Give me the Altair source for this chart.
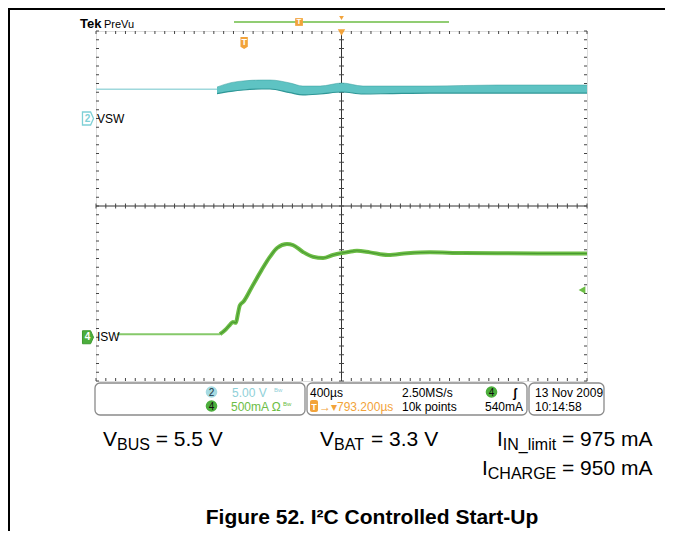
import altair as alt
import pandas as pd

# ---------------- data ----------------
# time in microseconds relative to screen centre (400 us/div, 10 div)
isw_pre_t = [-1830, -990]
isw_pre_ma = [35, 35]
isw_t = [-990, -950, -910, -885, -860, -845, -828, -800, -730, -650, -585,
         -525, -444, -395, -314, -233, -150, -70, 4, 94, 126, 232, 379, 534, 721,
         990, 1267, 1600, 2000]
isw_ma = [35, 80, 140, 175, 165, 260, 365, 405, 575, 770, 915,
          1020, 1066, 1054, 975, 920, 906, 940, 963, 984, 988, 970, 940, 960, 972,
          962, 960, 958, 958]

vsw_pre_t = [-2000, -1014]
vsw_pre_v = [3.33, 3.33]
vsw_t = [-1014, -900, -802, -650, -583, -420, -314, -175, 4, 175, 400, 721, 1267, 2000]
vsw_lo = [2.85, 3.10, 3.26, 3.37, 3.37, 2.95, 2.69, 2.80, 3.03, 2.80, 2.85, 2.91, 2.91, 2.91]
vsw_hi = [3.60, 4.10, 4.29, 4.40, 4.40, 4.06, 3.71, 3.71, 4.06, 3.71, 3.71, 3.71, 3.83, 3.83]

CH2_POS, CH2_SCALE = 2.0, 5.0      # div, V/div
CH4_POS, CH4_SCALE = -3.0, 500.0   # div, mA/div
TRIG_LEVEL_MA = 540
TRIG_TIME = -793.2
RECORD_WIN = [-876, 876]
OVERVIEW_T = -346

x_div = [-1600, -1200, -800, -400, 400, 800, 1200, 1600]
y_div = [-3, -2, -1, 1, 2, 3]
minor_x = [i * 80 for i in range(-25, 26)]
minor_y = [round(i * 0.2, 1) for i in range(-20, 21)]

# ---------------- styling ----------------
FONT = "Liberation Sans, Arial, sans-serif"
GREEN = "#6cbd45"
GREEN_D = "#3b8a2b"
GREEN_L = "#86c96a"
CYAN = "#5ec3c3"
CYAN_D = "#2f9797"
CYAN_L = "#9fd8dc"
ORANGE = "#f2a33a"
W, H = 491, 350

X = alt.Scale(domain=[-2000, 2000], nice=False, zero=False)
Y = alt.Scale(domain=[-4, 4], nice=False, zero=False)
ONE = pd.DataFrame({"k": [0]})


def xq(f="t"):
    return alt.X(f"{f}:Q", scale=X, axis=None)


def yq(f="d"):
    return alt.Y(f"{f}:Q", scale=Y, axis=None)


def txt(s, x, y, size=12, color="black", font=FONT, weight="normal", align="left",
        baseline="alphabetic"):
    return alt.Chart(ONE).mark_text(
        text=s, fontSize=size, color=color, font=font, fontWeight=weight,
        align=align, baseline=baseline
    ).encode(x=alt.value(x), y=alt.value(y))


layers = []

# grid (dotted) via axes
layers.append(
    alt.Chart(ONE).mark_point(opacity=0).encode(
        x=alt.X("k:Q", scale=X, axis=alt.Axis(values=x_div, grid=True, gridDash=[1, 7.75],
                                               gridColor="#808080", gridWidth=1.2, labels=False,
                                               ticks=False, domain=False, title=None)),
        y=alt.Y("k:Q", scale=Y, axis=alt.Axis(values=y_div, grid=True, gridDash=[1, 8.82],
                                               gridColor="#808080", gridWidth=1.2, labels=False,
                                               ticks=False, domain=False, title=None)),
    )
)

# centre cross
layers.append(alt.Chart(pd.DataFrame({"t": [0]})).mark_rule(color="#333", strokeWidth=1).encode(x=xq()))
layers.append(alt.Chart(pd.DataFrame({"d": [0]})).mark_rule(color="#333", strokeWidth=1).encode(y=yq()))

# minor ticks
mx = pd.DataFrame({"t": minor_x})
my = pd.DataFrame({"d": minor_y})
for y0, y1 in [(0, 3), (347, 350), (172.5, 177.5)]:
    layers.append(alt.Chart(mx).mark_rule(color="#444", strokeWidth=1).encode(
        x=xq(), y=alt.value(y0), y2=alt.value(y1)))
for x0, x1 in [(0, 3), (488, 491), (243, 248)]:
    layers.append(alt.Chart(my).mark_rule(color="#444", strokeWidth=1).encode(
        y=yq(), x=alt.value(x0), x2=alt.value(x1)))

# VSW trace (channel 2)
pre = pd.DataFrame({"t": vsw_pre_t, "v": vsw_pre_v})
pre["d"] = CH2_POS + pre.v / CH2_SCALE
layers.append(alt.Chart(pre).mark_line(color=CYAN_L, strokeWidth=1.5).encode(x=xq(), y=yq()))
vsw = pd.DataFrame({"t": vsw_t, "lo": vsw_lo, "hi": vsw_hi})
vsw["dlo"] = CH2_POS + vsw.lo / CH2_SCALE
vsw["dhi"] = CH2_POS + vsw.hi / CH2_SCALE
layers.append(alt.Chart(vsw).mark_area(color=CYAN, interpolate="monotone").encode(
    x=xq(), y=yq("dlo"), y2="dhi:Q"))
layers.append(alt.Chart(vsw).mark_line(color=CYAN_D, strokeWidth=1.2, interpolate="monotone").encode(
    x=xq(), y=yq("dlo")))
layers.append(alt.Chart(vsw).mark_line(color=CYAN_D, strokeWidth=0.8, opacity=0.6, interpolate="monotone").encode(
    x=xq(), y=yq("dhi")))

# ISW trace (channel 4)
ipre = pd.DataFrame({"t": isw_pre_t, "ma": isw_pre_ma})
ipre["d"] = CH4_POS + ipre.ma / CH4_SCALE
layers.append(alt.Chart(ipre).mark_line(color=GREEN_L, strokeWidth=2).encode(x=xq(), y=yq()))
isw = pd.DataFrame({"t": isw_t, "ma": isw_ma})
isw["d"] = CH4_POS + isw.ma / CH4_SCALE
layers.append(alt.Chart(isw).mark_line(color=GREEN, strokeWidth=4, interpolate="monotone").encode(x=xq(), y=yq()))
layers.append(alt.Chart(isw).mark_line(color=GREEN_D, strokeWidth=1.1, opacity=0.7, interpolate="monotone").encode(x=xq(), y=yq()))

# channel ground markers and labels
BADGE = "M-0.85,-1 L0.4,-1 L0.85,0 L0.4,1 L-0.85,1 Z"
ch = pd.DataFrame({"d": [CH2_POS]})
layers.append(alt.Chart(ch).mark_point(shape=BADGE, filled=True, fill="white", stroke="#7fd0d6",
                                       strokeWidth=1.3, size=169, opacity=1).encode(x=alt.value(-8), y=yq()))
layers.append(alt.Chart(ch).mark_text(text="2", font=FONT, fontSize=10, color="#7fd0d6",
                                      fontWeight="bold").encode(x=alt.value(-8.5), y=yq()))
layers.append(alt.Chart(ch).mark_text(text="VSW", font=FONT, fontSize=12, color="black",
                                      align="left").encode(x=alt.value(1), y=yq()))
ch4 = pd.DataFrame({"d": [CH4_POS]})
layers.append(alt.Chart(ch4).mark_point(shape=BADGE, filled=True, fill="#4cae3c", stroke="#3e9a30",
                                        strokeWidth=1, size=169, opacity=1).encode(x=alt.value(-8), y=yq()))
layers.append(alt.Chart(ch4).mark_text(text="4", font=FONT, fontSize=10, color="white",
                                       fontWeight="bold").encode(x=alt.value(-8.5), y=yq()))
layers.append(alt.Chart(ch4).mark_text(text="ISW", font=FONT, fontSize=12, color="black",
                                       align="left").encode(x=alt.value(1), y=yq()))

# trigger level marker (right edge)
tl = pd.DataFrame({"d": [CH4_POS + TRIG_LEVEL_MA / CH4_SCALE]})
layers.append(alt.Chart(tl).mark_point(shape="triangle-left", filled=True, color=GREEN, size=60,
                                       opacity=1).encode(x=alt.value(486), y=yq()))

# record overview bar and trigger markers at top
rw = pd.DataFrame({"t": [RECORD_WIN[0]], "t2": [RECORD_WIN[1]]})
layers.append(alt.Chart(rw).mark_rule(color=GREEN, strokeWidth=1.5).encode(
    x=xq(), x2="t2:Q", y=alt.value(-9)))
ov = pd.DataFrame({"t": [OVERVIEW_T]})
layers.append(alt.Chart(ov).mark_point(shape="square", filled=True, color=ORANGE, size=60, opacity=1).encode(
    x=xq(), y=alt.value(-9)))
layers.append(alt.Chart(ov).mark_text(text="T", font=FONT, fontSize=8, color="white", fontWeight="bold").encode(
    x=xq(), y=alt.value(-9)))
c0 = pd.DataFrame({"t": [0]})
layers.append(alt.Chart(c0).mark_point(shape="triangle-down", filled=True, color=ORANGE, size=22, opacity=1).encode(
    x=xq(), y=alt.value(-13)))
layers.append(alt.Chart(c0).mark_point(shape="triangle-down", filled=True, color=ORANGE, size=55, opacity=1).encode(
    x=xq(), y=alt.value(1.5)))
tt = pd.DataFrame({"t": [TRIG_TIME]})
TBADGE = "M-0.6,-1 L0.6,-1 L0.6,0.6 L0,1 L-0.6,0.6 Z"
layers.append(alt.Chart(tt).mark_point(shape=TBADGE, filled=True, color=ORANGE, size=150, opacity=1).encode(
    x=xq(), y=alt.value(12)))
layers.append(alt.Chart(tt).mark_text(text="T", font=FONT, fontSize=9, color="white", fontWeight="bold").encode(
    x=xq(), y=alt.value(11)))

# Tek PreVu
layers.append(txt("Tek", -16, -3, size=13, weight="bold"))
layers.append(txt("PreVu", 8, -3, size=11))

# status bar boxes
for x0, x1 in [(-1, 209), (211, 431), (433, 508)]:
    layers.append(alt.Chart(ONE).mark_rect(fill="white", stroke="#8a8a8a", strokeWidth=1.3,
                                           cornerRadius=5).encode(
        x=alt.value(x0), x2=alt.value(x1), y=alt.value(352), y2=alt.value(384)))

circ = [(115.5, 361, "#a6dbe2", "2", "#234"), (115.5, 375, "#4cae3c", "4", "#111"),
        (395.5, 361, "#4cae3c", "4", "#111")]
for cx, cy, fc, s, tc in circ:
    layers.append(alt.Chart(ONE).mark_point(shape="circle", filled=True, color=fc, size=135, opacity=1).encode(
        x=alt.value(cx), y=alt.value(cy)))
    layers.append(txt(s, cx, cy + 0.5, size=10, color=tc, align="center", baseline="middle"))

R1, R2 = 366, 380
layers.append(txt("5.00 V", 136, R1, size=12, color="#8fd0d8"))
layers.append(txt("Bw", 178, R1 - 5, size=6, color="#8fd0d8"))
layers.append(txt("500mA Ω", 135, R2, size=12, color=GREEN))
layers.append(txt("Bw", 187, R2 - 5, size=6, color=GREEN))
layers.append(txt("400µs", 214, R1, size=12))
layers.append(txt("2.50MS/s", 306, R1, size=12))
layers.append(txt("ʃ", 417, R1, size=12, weight="bold"))
layers.append(alt.Chart(ONE).mark_rect(fill=ORANGE, cornerRadius=2).encode(
    x=alt.value(214), x2=alt.value(222), y=alt.value(369), y2=alt.value(381)))
layers.append(txt("T", 218, R2 - 1.5, size=9, color="white", weight="bold", align="center"))
layers.append(txt("→▾793.200µs", 223, R2, size=12, color=ORANGE))
layers.append(txt("10k points", 306, R2, size=12))
layers.append(txt("540mA", 427, R2, size=12, align="right"))
layers.append(txt("13 Nov 2009", 439, R1, size=12))
layers.append(txt("10:14:58", 439, R2, size=12))

# datasheet annotations (V/I 21px, subscripts 16px)
B1, B2 = 415, 444
S = 4
layers += [
    txt("V", 7, B1, size=21), txt("BUS", 21, B1 + S, size=16), txt("= 5.5 V", 59.7, B1, size=21),
    txt("V", 224, B1, size=21), txt("BAT", 238, B1 + S, size=16), txt("= 3.3 V", 275, B1, size=21),
    txt("I", 401, B1, size=21), txt("IN_limit", 406.8, B1 + S, size=16), txt("= 975 mA", 466, B1, size=21),
    txt("I", 386, B2, size=21), txt("CHARGE", 391.8, B2 + S, size=16), txt("= 950 mA", 466, B2, size=21),
    txt("Figure 52. I²C Controlled Start-Up", 276, 493, size=21, weight="bold", align="center"),
]

# page frame lines
layers.append(alt.Chart(ONE).mark_rule(color="black", strokeWidth=2).encode(
    x=alt.value(-88), x2=alt.value(600), y=alt.value(-22)))
layers.append(alt.Chart(ONE).mark_rule(color="black", strokeWidth=2).encode(
    x=alt.value(-87), y=alt.value(-23), y2=alt.value(520)))

chart = alt.layer(*layers).properties(
    width=W, height=H,
    padding={"left": 88, "top": 23, "right": 78, "bottom": 150},
    autosize=alt.AutoSizeParams(type="none"),
).configure_view(stroke="#333", strokeWidth=1.5).configure(background="white")

chart.save("out.html", embed_options={"renderer": "svg", "actions": False})
